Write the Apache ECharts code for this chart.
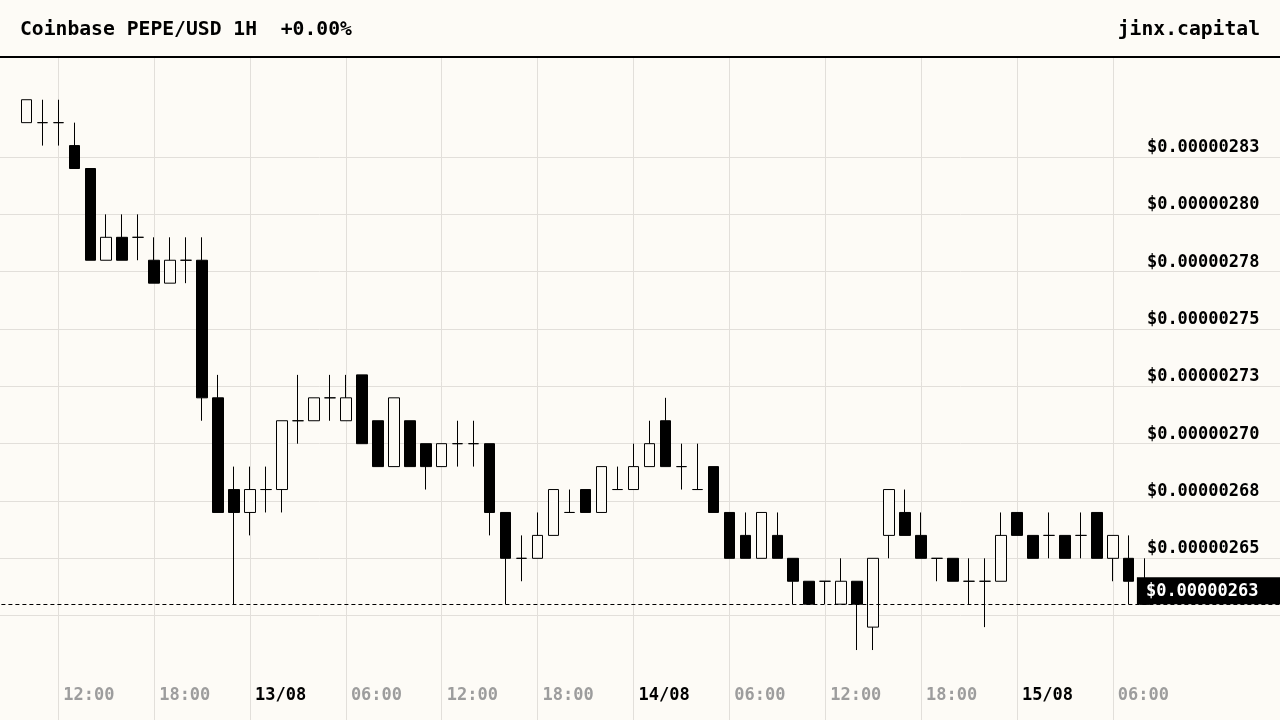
<!DOCTYPE html>
<html>
<head>
<meta charset="utf-8">
<script src="https://cdn.jsdelivr.net/npm/echarts@6/dist/echarts.min.js"></script>
<style>
html,body{margin:0;padding:0;background:#fdfbf6;}
#chart{width:1280px;height:720px;}
</style>
</head>
<body>
<div id="chart"></div>
<script>
// Hourly candles, Coinbase PEPE/USD. Prices in units of 1e-8 USD.
const categories = [
  '12/08 10:00','12/08 11:00','12/08 12:00','12/08 13:00','12/08 14:00','12/08 15:00','12/08 16:00',
  '12/08 17:00','12/08 18:00','12/08 19:00','12/08 20:00','12/08 21:00','12/08 22:00','12/08 23:00',
  '13/08 00:00','13/08 01:00','13/08 02:00','13/08 03:00','13/08 04:00','13/08 05:00','13/08 06:00',
  '13/08 07:00','13/08 08:00','13/08 09:00','13/08 10:00','13/08 11:00','13/08 12:00','13/08 13:00',
  '13/08 14:00','13/08 15:00','13/08 16:00','13/08 17:00','13/08 18:00','13/08 19:00','13/08 20:00',
  '13/08 21:00','13/08 22:00','13/08 23:00',
  '14/08 00:00','14/08 01:00','14/08 02:00','14/08 03:00','14/08 04:00','14/08 05:00','14/08 06:00',
  '14/08 07:00','14/08 08:00','14/08 09:00','14/08 10:00','14/08 11:00','14/08 12:00','14/08 13:00',
  '14/08 14:00','14/08 15:00','14/08 16:00','14/08 17:00','14/08 18:00','14/08 19:00','14/08 20:00',
  '14/08 21:00','14/08 22:00','14/08 23:00',
  '15/08 00:00','15/08 01:00','15/08 02:00','15/08 03:00','15/08 04:00','15/08 05:00','15/08 06:00',
  '15/08 07:00','15/08 08:00'
];
const openE8  = [284,284,284,283,282,278,279,279,278,277,278,278,272,268,267,268,268,271,271,272,271,273,271,269,271,270,269,270,270,270,267,265,265,266,267,268,267,268,268,269,271,269,268,269,267,266,265,266,265,264,264,263,264,262,266,267,266,265,265,264,264,264,267,266,266,266,266,267,265,265,263];
const closeE8 = [285,284,284,282,278,279,278,279,277,278,278,272,267,267,268,268,271,271,272,272,272,270,269,272,269,269,270,270,270,267,265,265,266,268,267,267,269,268,269,270,269,269,268,267,265,265,267,265,264,263,264,264,263,265,268,266,265,265,264,264,264,266,266,265,266,265,266,265,266,264,263];
const lowE8   = [284,283,283,282,278,278,278,278,277,277,277,271,267,263,266,267,267,270,271,271,271,270,269,269,269,268,269,269,269,266,263,264,265,266,267,267,267,268,268,269,269,268,268,267,265,265,265,265,263,263,263,263,261,261,265,266,265,264,264,263,262,264,266,265,265,265,265,265,264,263,263];
const highE8  = [285,285,285,284,282,280,280,280,279,279,279,279,273,269,269,269,271,273,272,273,273,273,271,272,271,270,270,271,271,270,267,266,267,268,268,268,269,269,270,271,272,270,270,269,267,267,267,267,265,264,264,265,264,265,268,268,267,265,265,265,265,267,267,266,267,266,267,267,266,266,265];

const title = 'Coinbase PEPE/USD 1H  +0.00%';
const brand = 'jinx.capital';
const yMin = 257.5, yMax = 287.5, yStep = 2.5;
const yLabelFrom = 265, yLabelTo = 282.5;

const BG = '#fdfbf6';
const GRID = '#e2dfda';
const FONT = "'DejaVu Sans Mono', monospace";

const padLeft = 2, padRight = 9;
const xCats = Array(padLeft).fill('').concat(categories, Array(padRight).fill(''));
const candleData = categories.map((c, i) => [i + padLeft, openE8[i], closeE8[i], lowE8[i], highE8[i]]);
const lastClose = closeE8[closeE8.length - 1];

function priceText(v) {
  return '$' + (Math.round(v) * 1e-8).toFixed(8);
}
function isSixHour(index, value) {
  if (!value) return false;
  const hh = parseInt(value.slice(6, 8), 10);
  return hh % 6 === 0;
}

// split-line colours: hide the lines outside the labelled band
const yLineColors = [];
for (let v = yMin; v <= yMax + 1e-9; v += yStep) {
  yLineColors.push(v >= 262.5 - 1e-9 && v <= yLabelTo + 1e-9 ? GRID : 'rgba(0,0,0,0)');
}

const chart = echarts.init(document.getElementById('chart'), null, {renderer: 'canvas'});
chart.setOption({
  backgroundColor: BG,
  animation: false,
  title: [
    {text: title, left: 20, top: 20, padding: 0, z: 200,
     textStyle: {fontFamily: FONT, fontSize: 19.7, fontWeight: 'bold', color: '#000', lineHeight: 20}},
    {text: brand, right: 20, top: 20, padding: 0, z: 200,
     textStyle: {fontFamily: FONT, fontSize: 19.7, fontWeight: 'bold', color: '#000', lineHeight: 20}}
  ],
  graphic: [
    {type: 'rect', z: 100, silent: true, shape: {x: 0, y: 0, width: 1280, height: 56}, style: {fill: BG}},
    {type: 'rect', z: 101, silent: true, shape: {x: 0, y: 56, width: 1280, height: 2}, style: {fill: '#000'}}
  ],
  grid: {left: -5.6, top: 42.4, width: 1294.1, height: 687.9, containLabel: false, outerBoundsMode: 'none'},
  xAxis: {
    type: 'category',
    data: xCats,
    boundaryGap: false,
    axisLine: {show: false},
    axisTick: {show: false},
    axisLabel: {
      inside: true,
      interval: isSixHour,
      margin: 26,
      align: 'left',
      padding: [0, 0, 0, 5],
      formatter: function (value) {
        const hh = value.slice(6);
        if (hh === '00:00') return '{d|' + value.slice(0, 5) + '}';
        return '{t|' + hh + '}';
      },
      rich: {
        d: {fontFamily: FONT, fontSize: 17, fontWeight: 'bold', color: '#000', lineHeight: 17},
        t: {fontFamily: FONT, fontSize: 17, fontWeight: 'bold', color: '#9d9d9d', lineHeight: 17}
      }
    },
    splitLine: {show: true, interval: isSixHour, lineStyle: {color: GRID, width: 1}}
  },
  yAxis: {
    type: 'value',
    position: 'right',
    min: yMin,
    max: yMax,
    interval: yStep,
    axisLine: {show: false},
    axisTick: {show: false},
    axisLabel: {
      inside: true,
      margin: 29,
      verticalAlign: 'bottom',
      padding: [0, 0, 1, 0],
      fontFamily: FONT, fontSize: 17, fontWeight: 'bold', color: '#000', lineHeight: 17,
      formatter: function (v) {
        if (v < yLabelFrom - 1e-9 || v > yLabelTo + 1e-9) return '';
        return priceText(v);
      }
    },
    splitLine: {show: true, lineStyle: {color: yLineColors, width: 1}}
  },
  series: [{
    type: 'candlestick',
    data: candleData,
    encode: {x: 0, y: [1, 2, 3, 4]},
    barWidth: 11,
    itemStyle: {
      color: BG, color0: '#000',
      borderColor: '#000', borderColor0: '#000', borderColorDoji: '#000',
      borderWidth: 1
    },
    markLine: {
      silent: true,
      symbol: ['none', 'none'],
      animation: false,
      lineStyle: {color: '#000', width: 1, type: [4, 3]},
      label: {
        show: true,
        position: 'insideEndTop',
        distance: [0, 0],
        formatter: function () { return priceText(lastClose); },
        color: '#fff',
        backgroundColor: '#000',
        fontFamily: FONT, fontSize: 17, fontWeight: 'bold', lineHeight: 17,
        padding: [6, 30, 4, 9]
      },
      data: [{yAxis: lastClose}]
    }
  }]
});
</script>
</body>
</html>
